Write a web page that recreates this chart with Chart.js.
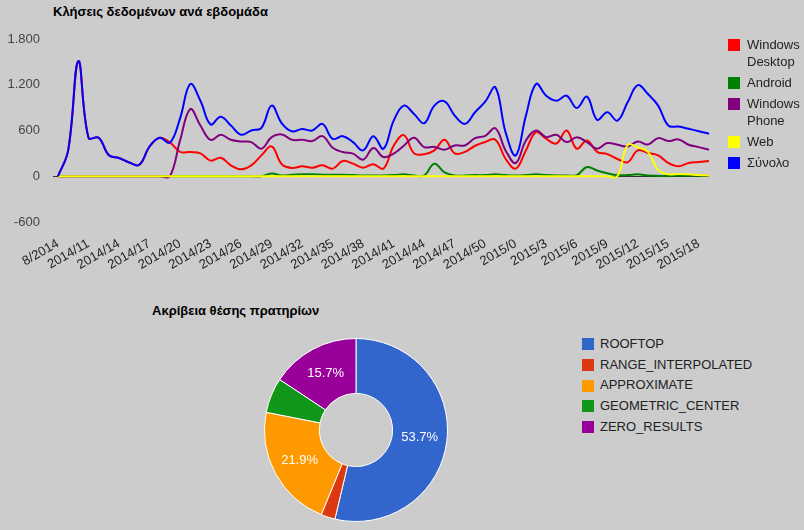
<!DOCTYPE html>
<html>
<head>
<meta charset="utf-8">
<script src="https://cdn.jsdelivr.net/npm/chart.js@4.4.1/dist/chart.umd.min.js"></script>
<style>
  body { margin: 0; background: #cccccc; font-family: Arial, "Liberation Sans", sans-serif; }
  #page { position: relative; width: 804px; height: 530px; overflow: hidden; background: #cccccc; }
  canvas { position: absolute; }
  .title { position: absolute; font-weight: bold; font-size: 13px; color: #000; white-space: nowrap; line-height: 15px; }
  .legend { position: absolute; font-size: 13px; color: #222; }
  .legend .item { display: flex; align-items: flex-start; }
  .legend .box { width: 12px; height: 12px; flex: none; }
  #weeklyLegend .item { margin-bottom: 4px; line-height: 17px; }
  #weeklyLegend .box { margin-top: 2.5px; }
  #weeklyLegend .text { margin-left: 7px; width: 56px; }
  #accuracyLegend .item { height: 20.7px; line-height: 20.7px; }
  #accuracyLegend .box { margin-top: 4.3px; }
  #accuracyLegend .text { margin-left: 6px; white-space: nowrap; }
</style>
</head>
<body>
<div id="page">
  <div class="title" style="left:53px;top:4px">Κλήσεις δεδομένων ανά εβδομάδα</div>
  <canvas id="weekly" width="804" height="290" style="left:0;top:0"></canvas>
  <div class="legend" id="weeklyLegend" style="left:728px;top:36px"></div>

  <div class="title" style="left:152px;top:303px">Ακρίβεια θέσης πρατηρίων</div>
  <canvas id="accuracy" width="184" height="184" style="left:264px;top:338px"></canvas>
  <div class="legend" id="accuracyLegend" style="left:582px;top:334px"></div>
</div>

<script>
// weekly categories (every 3rd one gets a tick label)
const weeks = [
  '8/2014', '2014/9', '2014/10', '2014/11', '2014/12', '2014/13', '2014/14', '2014/15', '2014/16', '2014/17',
  '2014/18', '2014/19', '2014/20', '2014/21', '2014/22', '2014/23', '2014/24', '2014/25', '2014/26', '2014/27',
  '2014/28', '2014/29', '2014/30', '2014/31', '2014/32', '2014/33', '2014/34', '2014/35', '2014/36', '2014/37',
  '2014/38', '2014/39', '2014/40', '2014/41', '2014/42', '2014/43', '2014/44', '2014/45', '2014/46', '2014/47',
  '2014/48', '2014/49', '2014/50', '2014/51', '2014/52', '2015/0', '2015/1', '2015/2', '2015/3', '2015/4',
  '2015/5', '2015/6', '2015/7', '2015/8', '2015/9', '2015/10', '2015/11', '2015/12', '2015/13', '2015/14',
  '2015/15', '2015/16', '2015/17', '2015/18', '2015/19'
];

const windowsDesktop = [
  0, 340, 1510, 505, 505, 275, 240, 180, 150, 390,
  505, 445, 320, 317, 300, 205, 243, 143, 91, 143,
  274, 391, 157, 109, 130, 113, 143, 100, 200, 165,
  113, 157, 100, 400, 540, 300, 290, 340, 480, 300,
  320, 400, 450, 480, 230, 100, 339, 578, 490, 430,
  600, 361, 469, 320, 290, 226, 183, 339, 304, 274,
  174, 130, 174, 187, 200
];

const android = [
  0, 0, 0, 0, 0, 0, 0, 0, 0, 0,
  0, 0, 0, 0, 0, 0, 0, 0, 0, 0,
  0, 35, 10, 20, 25, 25, 20, 20, 20, 15,
  10, 10, 10, 15, 25, 10, 10, 165, 50, 10,
  10, 15, 15, 25, 15, 10, 15, 25, 15, 10,
  10, 15, 120, 75, 40, 15, 15, 25, 10, 5,
  5, 10, 10, 10, 5
];

const windowsPhone = [
  0, 0, 0, 0, 0, 0, 0, 0, 0, 0,
  0, 0, 470, 880, 665, 478, 543, 478, 456, 448,
  361, 513, 548, 478, 478, 461, 526, 374, 317, 296,
  217, 370, 252, 296, 400, 505, 382, 385, 348, 404,
  404, 500, 530, 630, 339, 174, 469, 600, 513, 543,
  448, 513, 448, 361, 435, 413, 391, 456, 417, 500,
  461, 483, 413, 382, 348
];

const web = [
  0, 0, 0, 0, 0, 0, 0, 0, 0, 0,
  0, 0, 0, 0, 0, 0, 0, 0, 0, 0,
  0, 0, 0, 0, 0, 0, 0, 0, 0, 0,
  0, 0, 0, 0, 0, 0, 0, 0, 0, 0,
  0, 0, 0, 0, 0, 0, 0, 0, 0, 0,
  0, 0, 0, 0, 0, 0, 410, 380, 320, 80,
  25, 30, 25, 15, 10
];

const total = [
  0, 340, 1510, 505, 505, 275, 240, 180, 150, 390,
  505, 440, 760, 1210, 990, 680, 780, 665, 545, 600,
  635, 926, 695, 590, 620, 600, 687, 491, 526, 448,
  339, 526, 361, 730, 926, 817, 695, 926, 982, 795,
  687, 839, 978, 1165, 578, 274, 795, 1210, 1056, 991,
  1056, 895, 1043, 739, 839, 730, 969, 1195, 1078, 926,
  665, 652, 622, 591, 557
];

const seriesNames = ['Windows Desktop', 'Android', 'Windows Phone', 'Web', 'Σύνολο'];
const seriesColors = ['#ff0000', '#008000', '#800080', '#ffff00', '#0000ff'];

// accuracy of station positions (percent)
const accuracyLabels = ['ROOFTOP', 'RANGE_INTERPOLATED', 'APPROXIMATE', 'GEOMETRIC_CENTER', 'ZERO_RESULTS'];
const accuracyValues = [53.7, 2.5, 21.9, 6.2, 15.7];
const accuracyColors = ['#3366cc', '#dc3912', '#ff9900', '#109618', '#990099'];

Chart.defaults.font.family = 'Arial, "Liberation Sans", sans-serif';
Chart.defaults.font.size = 13;

function buildLegend(id, names, colors) {
  const el = document.getElementById(id);
  names.forEach((name, i) => {
    const item = document.createElement('div');
    item.className = 'item';
    const box = document.createElement('div');
    box.className = 'box';
    box.style.background = colors[i];
    const text = document.createElement('div');
    text.className = 'text';
    text.textContent = name;
    item.appendChild(box);
    item.appendChild(text);
    el.appendChild(item);
  });
}

// 1.800 style thousands separator
function formatNumber(v) {
  return String(v).replace(/\B(?=(\d{3})+(?!\d))/g, '.');
}

const seriesData = [windowsDesktop, android, windowsPhone, web, total];
// later series are drawn on top
const drawOrder = [4, 3, 2, 1, 0];

new Chart(document.getElementById('weekly').getContext('2d'), {
  type: 'line',
  data: {
    labels: weeks,
    datasets: seriesNames.map((name, i) => ({
      label: name,
      data: seriesData[i],
      borderColor: seriesColors[i],
      backgroundColor: seriesColors[i],
      borderWidth: 2,
      pointRadius: 0,
      tension: 0.4,
      fill: false,
      order: drawOrder[i]
    }))
  },
  options: {
    responsive: false,
    animation: false,
    layout: { padding: { top: 39, right: 95, left: 0, bottom: 0 } },
    plugins: {
      legend: { display: false },
      tooltip: { enabled: false }
    },
    scales: {
      x: {
        grid: { display: false, drawTicks: false },
        border: { display: false },
        ticks: {
          autoSkip: false,
          minRotation: 30,
          maxRotation: 30,
          padding: 14,
          color: '#222',
          callback: function(value, index) {
            return index % 3 === 0 ? this.getLabelForValue(value) : '';
          }
        },
        afterFit: (scale) => { scale.height = 68; }
      },
      y: {
        min: -600,
        max: 1800,
        border: { display: false },
        grid: {
          color: (ctx) => (ctx.tick && ctx.tick.value === 0 ? '#333333' : 'rgba(0,0,0,0)'),
          drawTicks: true,
          tickLength: 5
        },
        ticks: {
          stepSize: 600,
          padding: 13,
          color: '#444',
          callback: (v) => formatNumber(v)
        },
        afterFit: (scale) => { scale.width = 58; }
      }
    }
  }
});

buildLegend('weeklyLegend', seriesNames, seriesColors);

// percentage text inside the larger slices
const sliceLabels = {
  id: 'sliceLabels',
  afterDatasetsDraw(chart) {
    const ctx = chart.ctx;
    const meta = chart.getDatasetMeta(0);
    const values = chart.data.datasets[0].data;
    const sum = values.reduce((a, b) => a + b, 0);
    ctx.save();
    ctx.fillStyle = '#ffffff';
    ctx.font = '13px Arial, "Liberation Sans", sans-serif';
    ctx.textAlign = 'center';
    ctx.textBaseline = 'middle';
    meta.data.forEach((arc, i) => {
      const pct = values[i] * 100 / sum;
      if (pct < 10) return;
      const pos = arc.tooltipPosition();
      ctx.fillText(pct.toFixed(1) + '%', pos.x, pos.y);
    });
    ctx.restore();
  }
};

new Chart(document.getElementById('accuracy').getContext('2d'), {
  type: 'doughnut',
  data: {
    labels: accuracyLabels,
    datasets: [{
      data: accuracyValues,
      backgroundColor: accuracyColors,
      borderColor: '#ffffff',
      borderWidth: 1
    }]
  },
  options: {
    responsive: false,
    animation: false,
    cutout: '40%',
    plugins: {
      legend: { display: false },
      tooltip: { enabled: false }
    }
  },
  plugins: [sliceLabels]
});

buildLegend('accuracyLegend', accuracyLabels, accuracyColors);
</script>
</body>
</html>
